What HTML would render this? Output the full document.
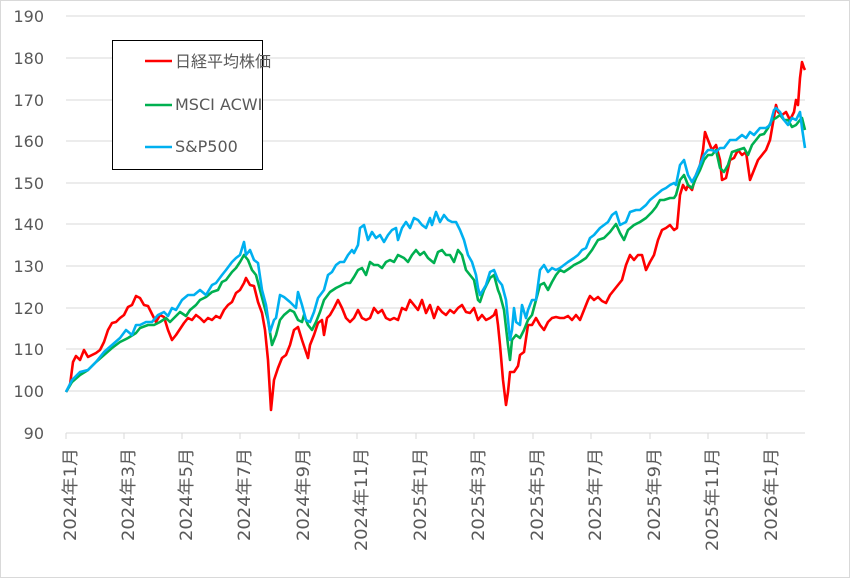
<!DOCTYPE html>
<html><head><meta charset="utf-8"><style>
html,body{margin:0;padding:0;background:#fff;}
svg{display:block;}
text{font-family:"DejaVu Sans","Liberation Sans","Noto Sans CJK JP",sans-serif;fill:#595959;}
</style></head><body>
<svg width="850" height="578" viewBox="0 0 850 578" xmlns="http://www.w3.org/2000/svg">
<rect x="0.5" y="0.5" width="849" height="577" fill="#fff" stroke="#d9d9d9"/>
<g stroke="#d9d9d9" stroke-width="1">
<line x1="66" y1="16" x2="805" y2="16"/><line x1="66" y1="58" x2="805" y2="58"/>
<line x1="66" y1="100" x2="805" y2="100"/><line x1="66" y1="141" x2="805" y2="141"/>
<line x1="66" y1="183" x2="805" y2="183"/><line x1="66" y1="224" x2="805" y2="224"/>
<line x1="66" y1="266" x2="805" y2="266"/><line x1="66" y1="308" x2="805" y2="308"/>
<line x1="66" y1="349" x2="805" y2="349"/><line x1="66" y1="391" x2="805" y2="391"/>
<line x1="66" y1="433" x2="805" y2="433"/>
<line x1="66" y1="433" x2="66" y2="439"/><line x1="124" y1="433" x2="124" y2="439"/>
<line x1="182" y1="433" x2="182" y2="439"/><line x1="240" y1="433" x2="240" y2="439"/>
<line x1="299" y1="433" x2="299" y2="439"/><line x1="357" y1="433" x2="357" y2="439"/>
<line x1="416" y1="433" x2="416" y2="439"/><line x1="474" y1="433" x2="474" y2="439"/>
<line x1="533" y1="433" x2="533" y2="439"/><line x1="591" y1="433" x2="591" y2="439"/>
<line x1="650" y1="433" x2="650" y2="439"/><line x1="708" y1="433" x2="708" y2="439"/>
<line x1="767" y1="433" x2="767" y2="439"/>
</g>
<g font-size="16" text-anchor="end">
<text x="44" y="22">190</text><text x="44" y="64">180</text><text x="44" y="106">170</text>
<text x="44" y="147">160</text><text x="44" y="189">150</text><text x="44" y="230">140</text>
<text x="44" y="272">130</text><text x="44" y="314">120</text><text x="44" y="355">110</text>
<text x="44" y="397">100</text><text x="44" y="439">90</text>
</g>
<g font-size="17" text-anchor="end">
<text transform="translate(76,448) rotate(-90)" textLength="93" lengthAdjust="spacingAndGlyphs">2024年1月</text>
<text transform="translate(134,448) rotate(-90)" textLength="93" lengthAdjust="spacingAndGlyphs">2024年3月</text>
<text transform="translate(192,448) rotate(-90)" textLength="93" lengthAdjust="spacingAndGlyphs">2024年5月</text>
<text transform="translate(250,448) rotate(-90)" textLength="93" lengthAdjust="spacingAndGlyphs">2024年7月</text>
<text transform="translate(309,448) rotate(-90)" textLength="93" lengthAdjust="spacingAndGlyphs">2024年9月</text>
<text transform="translate(367,448) rotate(-90)" textLength="103" lengthAdjust="spacingAndGlyphs">2024年11月</text>
<text transform="translate(426,448) rotate(-90)" textLength="93" lengthAdjust="spacingAndGlyphs">2025年1月</text>
<text transform="translate(484,448) rotate(-90)" textLength="93" lengthAdjust="spacingAndGlyphs">2025年3月</text>
<text transform="translate(543,448) rotate(-90)" textLength="93" lengthAdjust="spacingAndGlyphs">2025年5月</text>
<text transform="translate(601,448) rotate(-90)" textLength="93" lengthAdjust="spacingAndGlyphs">2025年7月</text>
<text transform="translate(660,448) rotate(-90)" textLength="93" lengthAdjust="spacingAndGlyphs">2025年9月</text>
<text transform="translate(718,448) rotate(-90)" textLength="103" lengthAdjust="spacingAndGlyphs">2025年11月</text>
<text transform="translate(777,448) rotate(-90)" textLength="93" lengthAdjust="spacingAndGlyphs">2026年1月</text>
</g>
<g fill="none" stroke-width="2.6" stroke-linejoin="round">
<polyline stroke="#ff0000" points="66,392 70,385 73,362 76,356 80,360 84,350 88,357 92,355 96,353 100,350 104,342 108,330 112,323 116,322 120,318 124,315 128,307 132,305 136,296 140,298 144,305 148,306 152,314 156,322 160,315 164,317 168,330 172,340 176,335 180,329 184,323 188,318 192,320 196,315 200,318 204,322 208,318 212,320 216,316 220,318 224,310 228,305 232,302 236,293 240,290 244,283 246,278 250,285 254,286 258,302 262,313 265,330 268,360 271,410 274,380 278,368 282,358 286,355 290,345 294,330 298,327 302,340 306,352 308,358 310,345 314,335 318,323 322,320 324,335 327,318 330,315 334,308 338,300 342,308 346,318 350,322 354,318 358,310 362,318 366,320 370,318 374,308 378,313 382,310 386,318 390,320 394,318 398,320 402,308 406,310 410,300 414,305 418,310 422,300 426,313 430,305 434,318 438,307 442,312 446,315 450,310 454,313 458,308 462,305 466,312 470,313 474,308 478,320 482,315 486,320 490,318 494,315 496,310 498,325 500,345 503,380 506,405 508,392 510,372 514,372 518,366 520,355 524,352 528,325 532,325 536,318 540,325 544,330 548,322 552,318 556,317 560,318 564,318 568,316 572,320 576,315 580,320 584,310 588,300 590,296 594,300 598,297 602,301 606,303 610,295 614,290 618,285 622,280 626,265 630,255 634,260 638,255 642,255 646,270 650,262 654,255 658,240 662,230 666,228 670,225 674,230 677,228 680,195 683,185 686,190 688,185 692,190 696,175 700,165 703,150 705,132 708,140 712,150 716,145 720,160 722,180 726,178 730,160 734,158 738,150 742,155 746,152 750,180 754,170 758,160 762,155 766,150 770,140 774,117 776,105 778,112 782,115 786,112 790,120 794,112 796,100 798,105 800,78 802,62 804,68 805,70"/>
<polyline stroke="#00b050" points="66,392 72,382 80,375 88,370 96,362 104,355 112,348 120,342 128,338 136,333 140,328 148,325 154,325 160,322 166,318 170,322 174,318 180,312 186,316 190,310 196,305 200,300 206,297 212,292 218,290 222,282 226,280 232,272 236,268 240,262 244,255 248,260 252,270 256,275 260,290 264,305 268,320 272,345 276,335 280,320 284,315 290,310 294,312 298,320 302,322 304,315 308,325 312,330 316,322 320,312 324,300 330,292 336,288 342,285 346,283 350,283 354,277 358,270 362,268 366,275 370,262 374,265 378,265 382,268 386,262 390,260 394,262 398,255 404,258 408,262 412,255 416,250 420,255 424,252 428,258 434,263 438,252 442,250 446,255 450,255 454,262 458,250 462,255 466,270 470,275 474,280 478,300 480,302 484,290 490,278 494,275 498,290 500,295 504,310 508,345 510,360 512,340 516,335 520,338 524,330 528,320 532,315 536,300 540,285 544,283 548,290 552,282 556,275 560,270 564,272 570,268 574,265 580,262 586,258 592,250 598,240 604,238 610,232 616,224 620,233 624,240 628,230 634,225 640,222 646,218 652,212 656,207 660,200 664,200 670,198 674,198 676,195 680,180 684,175 688,185 692,188 696,178 700,170 704,160 708,155 712,155 716,150 720,168 724,172 728,165 732,152 738,150 744,148 748,155 752,145 756,140 760,135 764,134 768,128 772,120 776,118 780,115 784,120 788,120 792,127 796,125 800,120 802,118 805,130"/>
<polyline stroke="#00b0f0" points="66,392 72,380 80,372 88,370 96,362 104,352 112,345 120,338 126,330 132,335 136,325 140,325 146,322 152,322 158,315 164,312 168,316 172,308 176,310 182,300 188,295 194,295 200,290 206,295 212,285 216,283 222,275 226,270 232,262 236,258 240,255 244,242 246,255 250,250 254,260 258,263 262,290 266,305 270,332 274,320 276,318 280,295 284,297 290,302 296,308 298,292 302,305 306,320 310,322 314,312 318,298 324,290 328,275 332,272 336,265 340,262 344,262 348,255 352,250 354,253 358,245 360,228 364,225 368,240 372,232 376,238 380,235 384,242 388,235 392,230 396,228 398,240 402,228 406,222 410,228 414,218 418,220 422,225 426,228 430,218 432,225 436,212 440,222 444,215 448,220 452,222 456,222 460,230 464,240 468,255 472,262 476,275 478,288 480,295 486,285 490,272 494,270 498,280 502,285 506,300 510,340 512,330 514,308 516,322 520,325 522,305 526,318 528,310 532,300 536,300 540,270 544,265 548,272 552,268 556,270 560,268 564,265 568,262 574,258 578,255 582,250 586,248 590,238 594,235 600,228 604,225 608,222 612,215 616,212 620,225 626,222 630,212 636,210 640,210 646,205 650,200 656,195 662,190 666,188 670,185 674,183 676,185 680,165 684,160 688,175 692,182 696,175 700,165 704,155 708,150 712,150 716,152 720,148 724,148 730,140 736,140 742,135 746,138 750,132 754,135 760,128 766,128 770,125 774,110 776,108 780,112 784,120 788,125 792,118 796,120 800,112 802,128 805,148"/>
</g>
<rect x="112.5" y="40.5" width="150" height="129" fill="#fff" stroke="#000" stroke-width="1"/>
<g stroke-width="2.6">
<line x1="145" y1="61" x2="172" y2="61" stroke="#ff0000"/>
<line x1="145" y1="105" x2="172" y2="105" stroke="#00b050"/>
<line x1="145" y1="147" x2="172" y2="147" stroke="#00b0f0"/>
</g>
<g font-size="16">
<text x="175" y="67">日経平均株価</text>
<text x="175" y="110">MSCI ACWI</text>
<text x="175" y="152">S&amp;P500</text>
</g>
</svg>
</body></html>
